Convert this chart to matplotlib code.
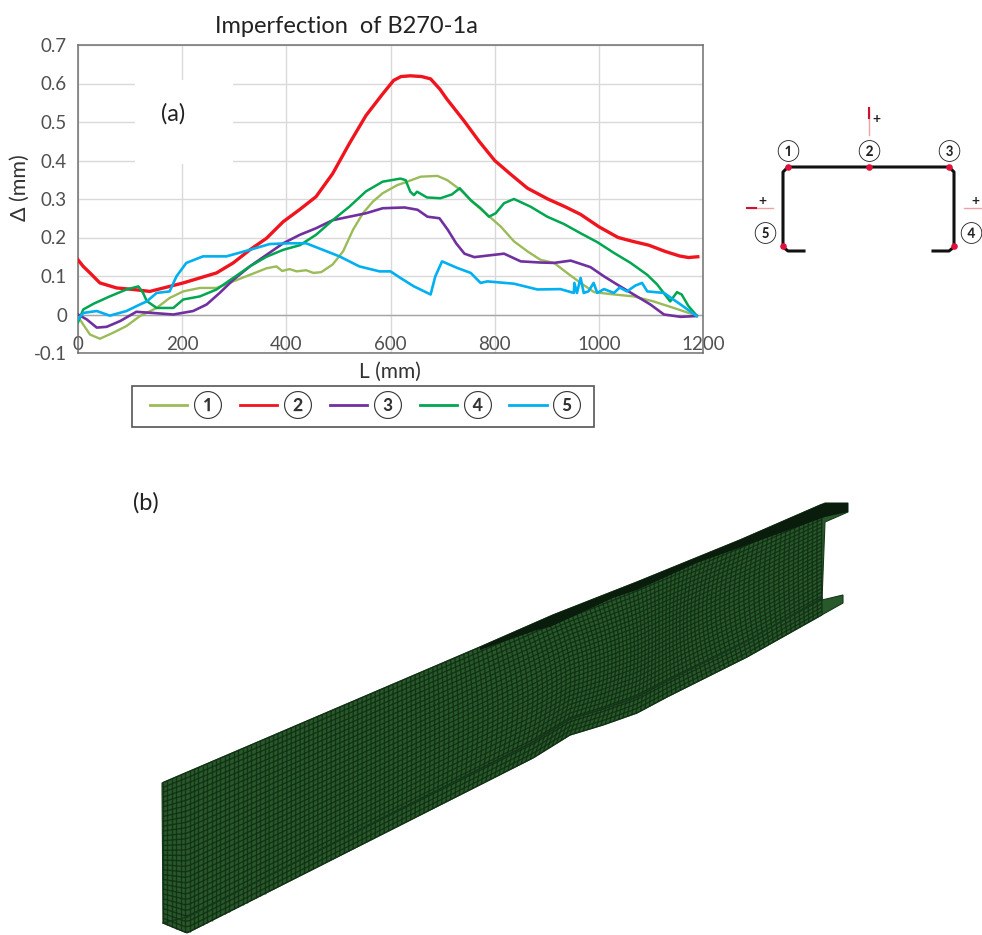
import numpy as np
import matplotlib
matplotlib.use("Agg")
import matplotlib.pyplot as plt
from matplotlib.lines import Line2D
from matplotlib.patches import Polygon, Rectangle
from matplotlib.collections import LineCollection

plt.rcParams["font.family"] = ["Lato", "DejaVu Sans"]

# ---- data ----
x1 = [0, 10, 23, 42, 68, 93, 119, 151, 176, 202, 234, 266, 298, 330, 362, 381, 392, 406, 420, 438, 452, 467, 489, 509, 528, 547, 566, 585, 613, 632, 658, 690, 709, 735, 760, 786, 812, 837, 863, 888, 914, 939, 965, 991, 1029, 1067, 1105, 1144, 1188]
y1 = [-0.005, -0.026, -0.052, -0.063, -0.047, -0.03, -0.004, 0.017, 0.043, 0.06, 0.069, 0.069, 0.086, 0.103, 0.12, 0.125, 0.113, 0.118, 0.112, 0.115, 0.108, 0.11, 0.13, 0.164, 0.22, 0.263, 0.293, 0.315, 0.336, 0.345, 0.358, 0.36, 0.349, 0.323, 0.289, 0.259, 0.228, 0.19, 0.164, 0.142, 0.134, 0.108, 0.082, 0.058, 0.052, 0.047, 0.034, 0.017, -0.003]

x2 = [0, 10, 23, 42, 74, 106, 138, 176, 202, 234, 266, 298, 330, 362, 394, 425, 457, 489, 521, 553, 585, 606, 620, 638, 660, 677, 695, 708, 740, 770, 800, 830, 863, 902, 935, 965, 1000, 1037, 1065, 1096, 1127, 1155, 1172, 1190]
y2 = [0.142, 0.125, 0.108, 0.082, 0.069, 0.065, 0.06, 0.073, 0.082, 0.095, 0.108, 0.134, 0.168, 0.198, 0.241, 0.272, 0.306, 0.366, 0.444, 0.517, 0.573, 0.608, 0.618, 0.62, 0.618, 0.612, 0.585, 0.56, 0.505, 0.45, 0.4, 0.365, 0.328, 0.3, 0.28, 0.26, 0.228, 0.2, 0.19, 0.18, 0.164, 0.152, 0.148, 0.15]

x3 = [0, 17, 36, 55, 81, 112, 144, 183, 221, 247, 272, 298, 330, 362, 394, 426, 457, 489, 521, 553, 585, 627, 652, 671, 694, 710, 726, 742, 761, 786, 818, 850, 888, 914, 946, 984, 1010, 1035, 1067, 1099, 1125, 1157, 1188]
y3 = [0, -0.013, -0.034, -0.032, -0.017, 0.007, 0.004, 0, 0.009, 0.026, 0.056, 0.09, 0.125, 0.155, 0.185, 0.207, 0.224, 0.245, 0.254, 0.263, 0.276, 0.278, 0.272, 0.254, 0.25, 0.22, 0.185, 0.158, 0.149, 0.153, 0.158, 0.138, 0.135, 0.134, 0.14, 0.123, 0.099, 0.078, 0.052, 0.026, 0, -0.006, -0.004]

x4 = [0, 10, 30, 61, 93, 116, 125, 132, 151, 183, 202, 234, 266, 298, 330, 362, 394, 426, 457, 489, 521, 553, 585, 619, 629, 638, 645, 651, 670, 696, 718, 733, 754, 773, 789, 802, 818, 837, 869, 901, 933, 965, 997, 1029, 1061, 1093, 1112, 1137, 1150, 1159, 1172, 1188]
y4 = [-0.02, 0.013, 0.028, 0.047, 0.065, 0.073, 0.056, 0.035, 0.017, 0.017, 0.039, 0.047, 0.065, 0.095, 0.125, 0.15, 0.168, 0.18, 0.207, 0.245, 0.28, 0.32, 0.345, 0.353, 0.349, 0.319, 0.31, 0.319, 0.304, 0.302, 0.312, 0.328, 0.297, 0.276, 0.254, 0.263, 0.289, 0.3, 0.28, 0.254, 0.235, 0.211, 0.188, 0.16, 0.134, 0.103, 0.078, 0.034, 0.058, 0.052, 0.022, -0.003]

x5 = [0, 10, 36, 61, 93, 119, 132, 151, 176, 189, 208, 240, 285, 330, 368, 406, 438, 470, 502, 540, 579, 600, 619, 645, 677, 686, 699, 728, 754, 773, 786, 837, 882, 926, 952, 953, 958, 965, 971, 980, 990, 997, 1010, 1029, 1040, 1054, 1070, 1083, 1093, 1125, 1157, 1188]
y5 = [-0.013, 0.004, 0.009, -0.003, 0.009, 0.026, 0.034, 0.056, 0.06, 0.099, 0.134, 0.151, 0.151, 0.168, 0.183, 0.185, 0.185, 0.168, 0.151, 0.125, 0.112, 0.112, 0.095, 0.073, 0.052, 0.099, 0.138, 0.121, 0.108, 0.082, 0.086, 0.08, 0.065, 0.066, 0.056, 0.082, 0.056, 0.095, 0.056, 0.06, 0.082, 0.056, 0.066, 0.056, 0.07, 0.06, 0.075, 0.082, 0.06, 0.056, 0.026, -0.004]

series = [(x1, y1), (x2, y2), (x3, y3), (x4, y4), (x5, y5)]
labels = ["①", "②", "③", "④", "⑤"]
colors = ["#9bbb59", "#f0141e", "#7030a0", "#00a650", "#00b0f0"]
widths = [1.7, 2.4, 1.9, 1.8, 1.9]

xticks = [0, 200, 400, 600, 800, 1000, 1200]
yticks = [-0.1, 0, 0.1, 0.2, 0.3, 0.4, 0.5, 0.6, 0.7]
yticklabels = ["-0.1", "0", "0.1", "0.2", "0.3", "0.4", "0.5", "0.6", "0.7"]

# outline of the beam, in picture pixels
beam_top_x = [162, 480, 553, 637, 740, 825]
beam_top_y = [783, 647, 615, 582, 540, 503]
beam_bot_x = [163, 187, 533, 570, 603, 637, 667, 747, 827]
beam_bot_y = [923, 933, 758, 735, 725, 713, 697, 657, 612]
# black sliver under the top edge
sliver_x = [480, 537, 550, 613, 637, 697, 825]
sliver_y = [650, 630, 627, 598, 590, 563, 517]

W, H = 982, 935
fig = plt.figure(figsize=(W / 100, H / 100), dpi=100)
ax = fig.add_axes([78 / W, (H - 353) / H, 625 / W, 308 / H])

for (x, y), c, lw in zip(series, colors, widths):
    ax.plot(x, y, color=c, lw=lw, zorder=3)

ax.set_xlim(0, 1200)
ax.set_ylim(-0.1, 0.7)
ax.set_xticks(xticks)
ax.set_yticks(yticks)
ax.set_yticklabels(yticklabels)
ax.grid(color="#d9d9d9", lw=1)
ax.set_axisbelow(True)
ax.axhline(0, color="#a6a6a6", lw=1, zorder=1)
ax.tick_params(length=0, labelsize=13.5, labelcolor="#505050")
ax.tick_params(axis="x", pad=-12)
ax.tick_params(axis="y", pad=8)
for s in ax.spines.values():
    s.set_color("#707070")
    s.set_linewidth(1.1)

# the white label box over the gridlines
ax.add_patch(Rectangle((109, 0.39), 189, 0.22, fc="white", ec="none", zorder=2))
ax.text(182, 0.52, "(a)", fontsize=17, color="#222222", ha="center", va="center")

ax.set_title("Imperfection  of B270-1a", fontsize=17, color="#222222", x=0.43, y=1.04, pad=0)
fig.text(390 / W, 1 - 372 / H, "L (mm)", fontsize=15, color="#333333", ha="center", va="center")
fig.text(20 / W, 1 - 188 / H, "Δ (mm)", fontsize=15.5, color="#333333", ha="center", va="center", rotation=90)

handles = [Line2D([], [], color=c, lw=2) for c in colors]
ax.legend(handles, labels, ncol=5, loc="center left", bbox_to_anchor=(72 / 625, -52 / 308),
          borderaxespad=0, borderpad=0, frameon=False,
          fontsize=19.5, handlelength=1.37, handletextpad=0.22, columnspacing=0.62,
          labelcolor="#333333")

# picture-wide layer for section sketch and beam
bg = fig.add_axes([0, 0, 1, 1], zorder=5)
bg.set_xlim(0, W)
bg.set_ylim(H, 0)
bg.axis("off")
bg.patch.set_alpha(0)

bg.add_patch(Rectangle((132, 386), 462, 41, fc="none", ec="#555555", lw=1.2))

# section sketch
bg.plot([804, 788, 783, 783, 788, 949, 954, 954, 949, 933],
        [251, 251, 247, 172, 167, 167, 172, 247, 251, 251], color="#111111", lw=2.2, solid_joinstyle="round")
bg.scatter([788, 869, 949, 783, 954], [167, 167, 167, 246, 246], s=14, color="#e0103a", zorder=3)
for (px, py), t in zip([(788, 151), (869, 151), (949, 151), (971, 233), (765, 233)], labels):
    bg.text(px, py, t, fontsize=15, color="#222222", ha="center", va="center")
bg.plot([869, 869], [108, 135], color="#f4a0a8", lw=1)
bg.plot([869, 869], [108, 118], color="#d01030", lw=1.5)
bg.plot([747, 773], [208, 208], color="#f4a0a8", lw=1)
bg.plot([747, 756], [208, 208], color="#d01030", lw=1.5)
bg.plot([964, 982], [208, 208], color="#f4a0a8", lw=1)
for px, py in [(876, 119), (762, 201), (975, 201)]:
    bg.text(px, py, "+", fontsize=10, fontweight="bold", color="#222222", ha="center", va="center")

bg.text(146, 503, "(b)", fontsize=17, color="#222222", ha="center", va="center")

# beam body
outline = list(zip(beam_top_x, beam_top_y)) + [(848, 503), (848, 512), (825, 522), (822, 600), (843, 595), (843, 603)]
outline = outline + list(zip(beam_bot_x[::-1], beam_bot_y[::-1]))
bg.add_patch(Polygon(outline, closed=True, fc="#28592a", ec="#17381a", lw=0.8, zorder=2))

# mesh on the web: rungs bend round the buckle in the middle
xs = np.linspace(163, 822, 150)
top_ys = np.interp(xs, beam_top_x, beam_top_y)
bot_ys = np.maximum(np.interp(xs, beam_bot_x, beam_bot_y), top_ys)
fs = np.linspace(0, 1, 12)
bend = 14 * np.exp(-((xs - 560) / 90) ** 2) - 10 * np.exp(-((xs - 720) / 60) ** 2)
rungs = [np.column_stack([x + b * np.sin(np.pi * fs), t + fs * (d - t)]) for x, t, d, b in zip(xs, top_ys, bot_ys, bend)]
rails = [np.column_stack([xs, top_ys + f * (bot_ys - top_ys)]) for f in np.linspace(0, 1, 30)]
bg.add_collection(LineCollection(rungs, colors="#0f2c12", linewidths=1.0, alpha=0.8, zorder=3))
bg.add_collection(LineCollection(rails, colors="#0f2c12", linewidths=1.0, alpha=0.8, zorder=3))

# dark sliver where the top flange shows
top_poly = list(zip(beam_top_x[1:], beam_top_y[1:])) + [(848, 503), (848, 512)] + list(zip(sliver_x[::-1], sliver_y[::-1]))
bg.add_patch(Polygon(top_poly, closed=True, fc="#0a1c0c", ec="none", zorder=4))
# lower lip lines
bg.plot([187, 533, 570, 603, 637, 667, 747, 822], [917, 742, 719, 709, 697, 681, 641, 598],
        color="#14371a", lw=1.3, zorder=4)
bg.plot([163, 187], [923, 917], color="#14371a", lw=1.0, zorder=4)

fig.savefig("out.png", dpi=100)
